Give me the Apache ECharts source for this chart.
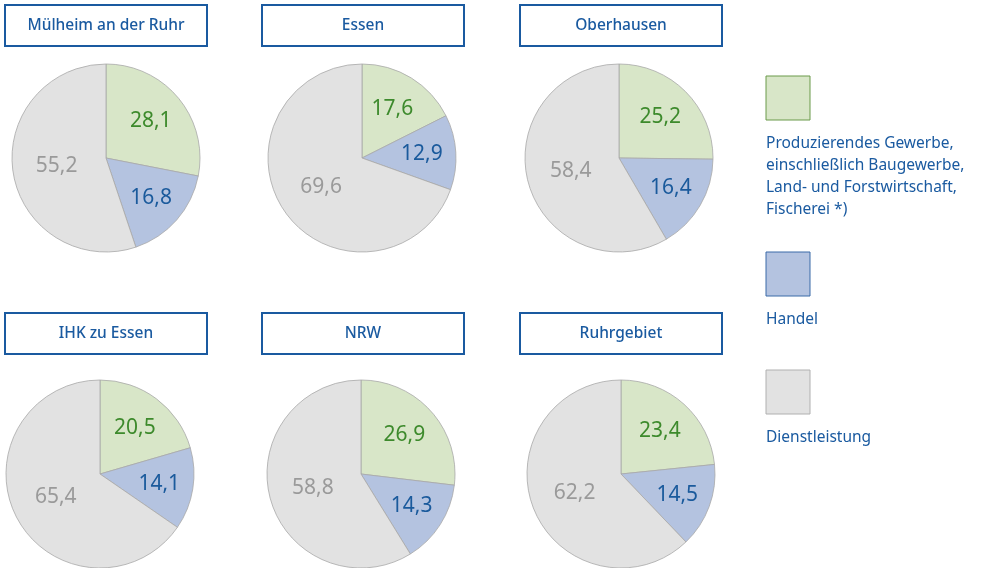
<!DOCTYPE html>
<html>
<head>
<meta charset="utf-8">
<script src="https://cdn.jsdelivr.net/npm/echarts@6/dist/echarts.min.js"></script>
<style>
  body { margin: 0; background: #fff; }
  #pieMap { width: 993px; height: 568px; }
</style>
</head>
<body>
<div id="pieMap"></div>
<script>
// Regionen (Titel der Kästen)
var regions = ['Mülheim an der Ruhr', 'Essen', 'Oberhausen', 'IHK zu Essen', 'NRW', 'Ruhrgebiet'];
// Sektoren
var sectors = ['Produzierendes Gewerbe, einschließlich Baugewerbe, Land- und Forstwirtschaft, Fischerei *)', 'Handel', 'Dienstleistung'];
// Anteile in % je Region
var produzierend = [28.1, 17.6, 25.2, 20.5, 26.9, 23.4];
var handel = [16.8, 12.9, 16.4, 14.1, 14.3, 14.5];
var dienstleistung = [55.2, 69.6, 58.4, 65.4, 58.8, 62.2];

var fillColor = ['#d8e6c8', '#b4c3e0', '#e2e2e2'];
var borderColor = ['#6a9a4a', '#3a6aa8', '#b0b0b0'];
var labelColor = ['#3d8a2c', '#1a5a9c', '#9a9a9a'];
var blue = '#1a5aa0';
var font = '"Noto Sans", "Open Sans", sans-serif';

// Position der Kästen und Kreise
var boxX = [106, 363, 621];
var boxY = [4, 312];
var pieX = [[106, 362, 619], [100, 361, 621]];
var pieY = [158, 474];
// Label etwas weiter nach außen schieben (px)
var labelPush = [8, 10, 0];

var myChart = echarts.init(document.getElementById('pieMap'));

var series = [];
var graphic = [];
for (var i = 0; i < regions.length; i++) {
  var col = i % 3;
  var row = Math.floor(i / 3);
  var vals = [produzierend[i], handel[i], dienstleistung[i]];
  var total = vals[0] + vals[1] + vals[2];
  var data = [];
  var acc = 0;
  for (var k = 0; k < 3; k++) {
    var mid = (acc + vals[k] / 2) / total * Math.PI * 2;
    acc += vals[k];
    data.push({
      name: sectors[k],
      value: vals[k],
      itemStyle: { color: fillColor[k] },
      label: {
        color: labelColor[k],
        offset: [Math.sin(mid) * labelPush[k], -Math.cos(mid) * labelPush[k]]
      }
    });
  }
  series.push({
    type: 'pie',
    name: regions[i],
    radius: 94,
    center: [pieX[row][col], pieY[row]],
    startAngle: 90,
    clockwise: true,
    silent: true,
    data: data,
    itemStyle: { borderColor: '#a8a8a8', borderWidth: 0.8 },
    label: {
      show: true,
      position: 'inside',
      fontSize: 21,
      fontFamily: font,
      formatter: function (p) { return String(p.value).replace('.', ','); }
    },
    labelLine: { show: false }
  });

  // Titelkasten
  graphic.push({
    type: 'rect',
    shape: { x: boxX[col] - 101, y: boxY[row] + 1, width: 202, height: 41 },
    style: { fill: '#fff', stroke: blue, lineWidth: 2 }
  });
  graphic.push({
    type: 'text',
    x: boxX[col],
    y: boxY[row] + 22,
    style: {
      text: regions[i],
      fill: blue,
      font: '500 15.5px ' + font,
      textAlign: 'center',
      textVerticalAlign: 'middle'
    }
  });
}

// Legende rechts
var legendY = [76, 252, 370];
var legendText = [
  'Produzierendes Gewerbe,\neinschließlich Baugewerbe,\nLand- und Forstwirtschaft,\nFischerei *)',
  'Handel',
  'Dienstleistung'
];
for (var k = 0; k < 3; k++) {
  graphic.push({
    type: 'rect',
    shape: { x: 766, y: legendY[k], width: 44, height: 44 },
    style: { fill: fillColor[k], stroke: borderColor[k], lineWidth: 1 }
  });
  graphic.push({
    type: 'text',
    x: 766,
    y: legendY[k] + 57,
    style: {
      text: legendText[k],
      fill: blue,
      font: '15.5px ' + font,
      lineHeight: 22,
      textAlign: 'left',
      textVerticalAlign: 'top'
    }
  });
}

var option = {
  backgroundColor: '#fff',
  animation: false,
  series: series,
  graphic: graphic
};
myChart.setOption(option);
</script>
</body>
</html>
